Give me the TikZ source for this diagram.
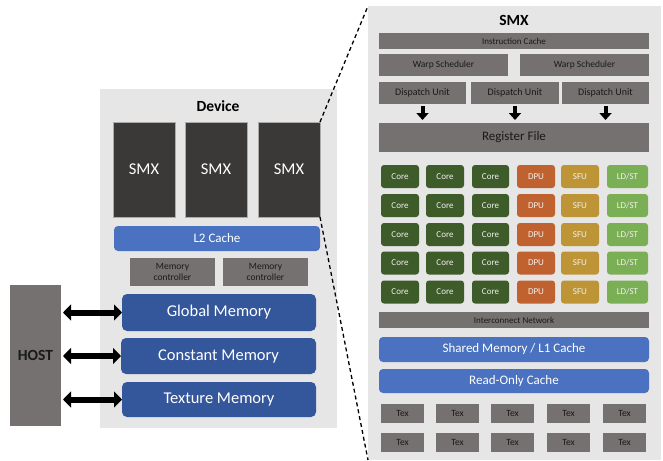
\documentclass[tikz,border=0pt]{standalone}
\usepackage{fontspec}
\setmainfont{Carlito}
\usetikzlibrary{arrows.meta}
\definecolor{panelgray}{HTML}{E7E6E6}
\definecolor{smxdark}{HTML}{3B3838}
\definecolor{unitgray}{HTML}{767171}
\definecolor{cacheblue}{HTML}{4A72C0}
\definecolor{memblue}{HTML}{34569A}
\definecolor{coregreen}{HTML}{3E5C29}
\definecolor{dpuorange}{HTML}{C0622F}
\definecolor{sfugold}{HTML}{BE9536}
\definecolor{ldstgreen}{HTML}{7BAF56}
\newcommand\ldstlabel{LD/ST}
\begin{document}
\begin{tikzpicture}[x=1pt, y=-1pt,
    sz/.style 2 args={minimum width=#1pt, minimum height=#2pt},
    base/.style={inner sep=0pt, outer sep=0pt},
    panel/.style={base, fill=panelgray},
    title/.style={font=\fontsize{15.5}{18}\selectfont\bfseries},
    smxbox/.style={base, fill=smxdark, draw=unitgray!60, line width=0.6pt, text=white, font=\fontsize{16.5}{19}\selectfont},
    graybox/.style={base, fill=unitgray, text=black!90, align=center},
    bluebox/.style={base, fill=cacheblue, rounded corners=4pt, text=white},
    membox/.style={base, fill=memblue, rounded corners=5pt, text=white, font=\fontsize{16.5}{19}\selectfont},
    unit/.style={base, rounded corners=3pt, text=white!94!black, font=\fontsize{9}{10}\selectfont, minimum height=23pt},
    hostarrow/.style={line width=6pt, {Triangle[length=8pt,width=16pt]}-{Triangle[length=8pt,width=16pt]}, shorten <=2pt},
    downarrow/.style={line width=4pt, -{Triangle[length=7pt,width=12pt]}, shorten <=2pt, shorten >=3pt},
    zoomline/.style={dashed, dash pattern=on 4pt off 3pt, line width=1.3pt}]
  \useasboundingbox (0,0) rectangle (663,460);

  \node[panel, sz={237}{339}] (device) at (218.5,258.5) {};
  \node[title] (devtitle) at (218,106) {Device};
  \node[smxbox, sz={62}{95}] (smx1) at (144,169.5) {SMX};
  \node[smxbox, sz={62}{95}] (smx2) at (216,169.5) {SMX};
  \node[smxbox, sz={62}{95}] (smx3) at (289,169.5) {SMX};
  \node[bluebox, sz={206}{25}, font=\fontsize{13}{15}\selectfont] (l2) at (217,238.5) {L2 Cache};
  \node[graybox, sz={85}{28}, font=\fontsize{9.5}{11}\selectfont] (mc1) at (172.5,272) {Memory\\controller};
  \node[graybox, sz={85}{28}, font=\fontsize{9.5}{11}\selectfont] (mc2) at (265.5,272) {Memory\\controller};
  \node[membox, sz={194}{37}] (gm) at (219,312.5) {Global Memory};
  \node[membox, sz={195}{36}] (cm) at (218.5,356) {Constant Memory};
  \node[membox, sz={194}{35}] (tm) at (219,399.5) {Texture Memory};

  \node[graybox, sz={51}{141}, font=\fontsize{15.5}{18}\selectfont\bfseries] (host) at (35.5,355.5) {HOST};
  \draw[hostarrow] (host.east |- gm) -- (gm.west);
  \draw[hostarrow] (host.east |- cm) -- (cm.west);
  \draw[hostarrow] (host.east |- tm) -- (tm.west);

  \node[panel, sz={293}{454}] (smxp) at (514.5,233) {};
  \node[title] (smxtitle) at (514,20) {SMX};
  \node[graybox, sz={270}{16}, font=\fontsize{9}{10}\selectfont] (ic) at (514,41) {Instruction Cache};
  \node[graybox, sz={129}{22}, font=\fontsize{9.5}{11}\selectfont] (ws1) at (443.5,65) {Warp Scheduler};
  \node[graybox, sz={129}{22}, font=\fontsize{9.5}{11}\selectfont] (ws2) at (584.5,65) {Warp Scheduler};
  \node[graybox, sz={87}{22}, font=\fontsize{10}{11}\selectfont] (du1) at (422.5,93) {Dispatch Unit};
  \node[graybox, sz={88}{22}, font=\fontsize{10}{11}\selectfont] (du2) at (515,93) {Dispatch Unit};
  \node[graybox, sz={87}{22}, font=\fontsize{10}{11}\selectfont] (du3) at (605.5,93) {Dispatch Unit};
  \node[graybox, sz={270}{29}, font=\fontsize{13}{15}\selectfont] (rf) at (514,137.5) {Register File};
  \foreach \d in {du1,du2,du3}
    \draw[downarrow] (\d.south) -- (\d.south |- rf.north);

  \foreach \r [count=\i] in {176.5,205.5,234.5,263,292} {
    \foreach \c/\lbl/\col/\w [count=\j] in {400/Core/coregreen/38, 445/Core/coregreen/38,
        490.5/Core/coregreen/37, 536/DPU/dpuorange/38, 580/SFU/sfugold/38, 627.5/\ldstlabel/ldstgreen/41}
      \node[unit, fill=\col, minimum width=\w pt] (u\i\j) at (\c,\r) {\lbl};
  }

  \node[graybox, sz={270}{16}, font=\fontsize{9}{10}\selectfont] (icn) at (514,320) {Interconnect Network};
  \node[bluebox, sz={270}{25}, font=\fontsize{13}{15}\selectfont] (shm) at (514,349.5) {Shared Memory / L1 Cache};
  \node[bluebox, sz={270}{24}, font=\fontsize{13}{15}\selectfont] (roc) at (514,381) {Read-Only Cache};
  \foreach \r [count=\i] in {413.5,442.5}
    \foreach \c [count=\j] in {402.5,457.5,512.5,568.5,624.5}
      \node[graybox, sz={43}{19}, font=\fontsize{9.5}{11}\selectfont] (tex\i\j) at (\c,\r) {Tex};

  \draw[zoomline] (smx3.north east) -- (smxp.north west);
  \draw[zoomline] (smx3.south east) -- (smxp.south west);
\end{tikzpicture}
\end{document}
